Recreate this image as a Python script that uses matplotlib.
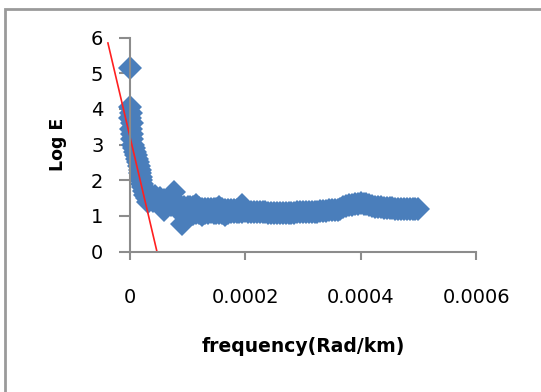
import numpy as np
import matplotlib
matplotlib.use("Agg")
import matplotlib.pyplot as plt
from matplotlib.patches import Rectangle

# log energy spectrum
# steep part near zero frequency
freq_low = [
    0.0, 0.0, 0.000002, 0.000001, 0.000003, 0.000002, 0.000004, 0.000003,
    0.000005, 0.000007, 0.000009, 0.000011, 0.000012, 0.000014, 0.000016,
    0.000017, 0.000018, 0.000019, 0.00002, 0.000021, 0.000022, 0.000024,
    0.000027, 0.00003,
    0.000032, 0.000036, 0.00004, 0.000044, 0.000048, 0.000052, 0.000056,
    0.00006, 0.00006, 0.000064, 0.000068, 0.000072, 0.000076, 0.00008,
    0.000082, 0.000086, 0.00009, 0.00009, 0.000094, 0.000098,
]
log_e_low = [
    5.15, 4.05, 3.9, 3.75, 3.6, 3.45, 3.3, 3.15,
    3.0, 2.9, 2.8, 2.7, 2.6, 2.5, 2.4,
    2.3, 2.2, 2.1, 2.0, 1.9, 1.8, 1.7,
    1.6, 1.5,
    1.4, 1.52, 1.42, 1.55, 1.4, 1.5, 1.3,
    1.16, 1.45, 1.35, 1.5, 1.3, 1.68, 1.4,
    1.2, 1.3, 0.77, 1.15, 1.25, 1.12,
]
# upper and lower edge of the band, 0.0001 - 0.0002
freq_mid = [
    0.0001, 0.000105, 0.00011, 0.000115, 0.00012, 0.000125, 0.00013,
    0.000135, 0.00014, 0.000145, 0.00015, 0.000155, 0.00016, 0.000165,
    0.00017, 0.000175, 0.00018, 0.000185, 0.00019, 0.000195,
]
log_e_mid_hi = [
    1.26, 1.24, 1.24, 1.3, 1.22, 1.2, 1.2,
    1.2, 1.2, 1.19, 1.2, 1.24, 1.19, 1.18,
    1.18, 1.17, 1.17, 1.17, 1.2, 1.3,
]
log_e_mid_lo = [
    1.08, 1.07, 1.06, 1.08, 1.08, 1.02, 1.08,
    1.09, 1.1, 1.09, 1.09, 1.09, 1.09, 1.04,
    1.09, 1.1, 1.1, 1.1, 1.1, 1.1,
]
# flat tail, 0.0002 - 0.0005
freq_high = [
    0.0002, 0.000205, 0.00021, 0.000215, 0.00022, 0.000225, 0.00023,
    0.000235, 0.00024, 0.000245, 0.00025, 0.000255, 0.00026, 0.000265,
    0.00027, 0.000275, 0.00028, 0.000285, 0.00029, 0.000295, 0.0003,
    0.000305, 0.00031, 0.000315, 0.00032, 0.000325, 0.00033, 0.000335,
    0.00034, 0.000345, 0.00035, 0.000355, 0.00036, 0.000365, 0.00037,
    0.000375, 0.00038, 0.000385, 0.00039, 0.000395, 0.0004, 0.000405,
    0.00041, 0.000415, 0.00042, 0.000425, 0.00043, 0.000435, 0.00044,
    0.000445, 0.00045, 0.000455, 0.00046, 0.000465, 0.00047, 0.000475,
    0.00048, 0.000485, 0.00049, 0.000495, 0.0005,
]
log_e_high = [
    1.13, 1.12, 1.11, 1.11, 1.1, 1.1, 1.1,
    1.1, 1.09, 1.09, 1.09, 1.09, 1.09, 1.09,
    1.09, 1.09, 1.09, 1.09, 1.1, 1.1, 1.1,
    1.1, 1.11, 1.11, 1.12, 1.12, 1.13, 1.14,
    1.15, 1.16, 1.17, 1.17, 1.18, 1.21, 1.25,
    1.28, 1.3, 1.32, 1.34, 1.35, 1.36, 1.35,
    1.33, 1.3, 1.28, 1.26, 1.25, 1.24, 1.23,
    1.23, 1.22, 1.22, 1.21, 1.21, 1.21, 1.2,
    1.2, 1.2, 1.2, 1.2, 1.19,
]
# red trend line end points
fit_x = [-0.000038, 0.000047]
fit_y = [5.85, 0.0]

xticks = [0, 0.0002, 0.0004, 0.0006]
xtick_labels = ["0", "0.0002", "0.0004", "0.0006"]
yticks = [0, 1, 2, 3, 4, 5, 6]

fig = plt.figure(figsize=(5.41, 3.92), dpi=100)
ax = fig.add_axes([0.240, 0.358, 0.640, 0.546])

blue = "#4a7ebb"
mk = dict(linestyle="none", marker="D", markersize=12, color=blue,
          markeredgewidth=0, clip_on=False)
ax.plot(freq_low, log_e_low, **mk)
ax.plot(freq_mid, log_e_mid_hi, **mk)
ax.plot(freq_mid, log_e_mid_lo, **mk)
ax.plot(freq_high, log_e_high, **mk)
ax.plot(fit_x, fit_y, color="#ff2020", linewidth=1.2, clip_on=False)

ax.set_xlim(0, 0.0006)
ax.set_ylim(0, 6)
ax.set_xticks(xticks)
ax.set_xticklabels(xtick_labels)
ax.set_yticks(yticks)

for s in ["top", "right"]:
    ax.spines[s].set_visible(False)
for s in ["left", "bottom"]:
    ax.spines[s].set_color("#8c8c8c")
    ax.spines[s].set_linewidth(1.5)
ax.tick_params(axis="x", direction="out", length=6, width=1.5,
               color="#8c8c8c", labelsize=14, pad=20)
ax.tick_params(axis="y", direction="out", length=8, width=1.5,
               color="#8c8c8c", labelsize=14, pad=11)

ax.set_xlabel("frequency(Rad/km)", fontsize=13.5, fontweight="bold", va="center")
ax.xaxis.set_label_coords(0.5, -0.445)
ax.set_ylabel("Log E", fontsize=12.5, fontweight="bold", va="center")
ax.yaxis.set_label_coords(-0.208, 0.5)

# outer chart frame
fig.patches.append(Rectangle((5 / 541, -0.1), 1.2, 1 - 9.5 / 392 + 0.1,
                             transform=fig.transFigure, fill=False,
                             edgecolor="#9a9a9a", linewidth=2))

fig.savefig("out.png", dpi=100)
